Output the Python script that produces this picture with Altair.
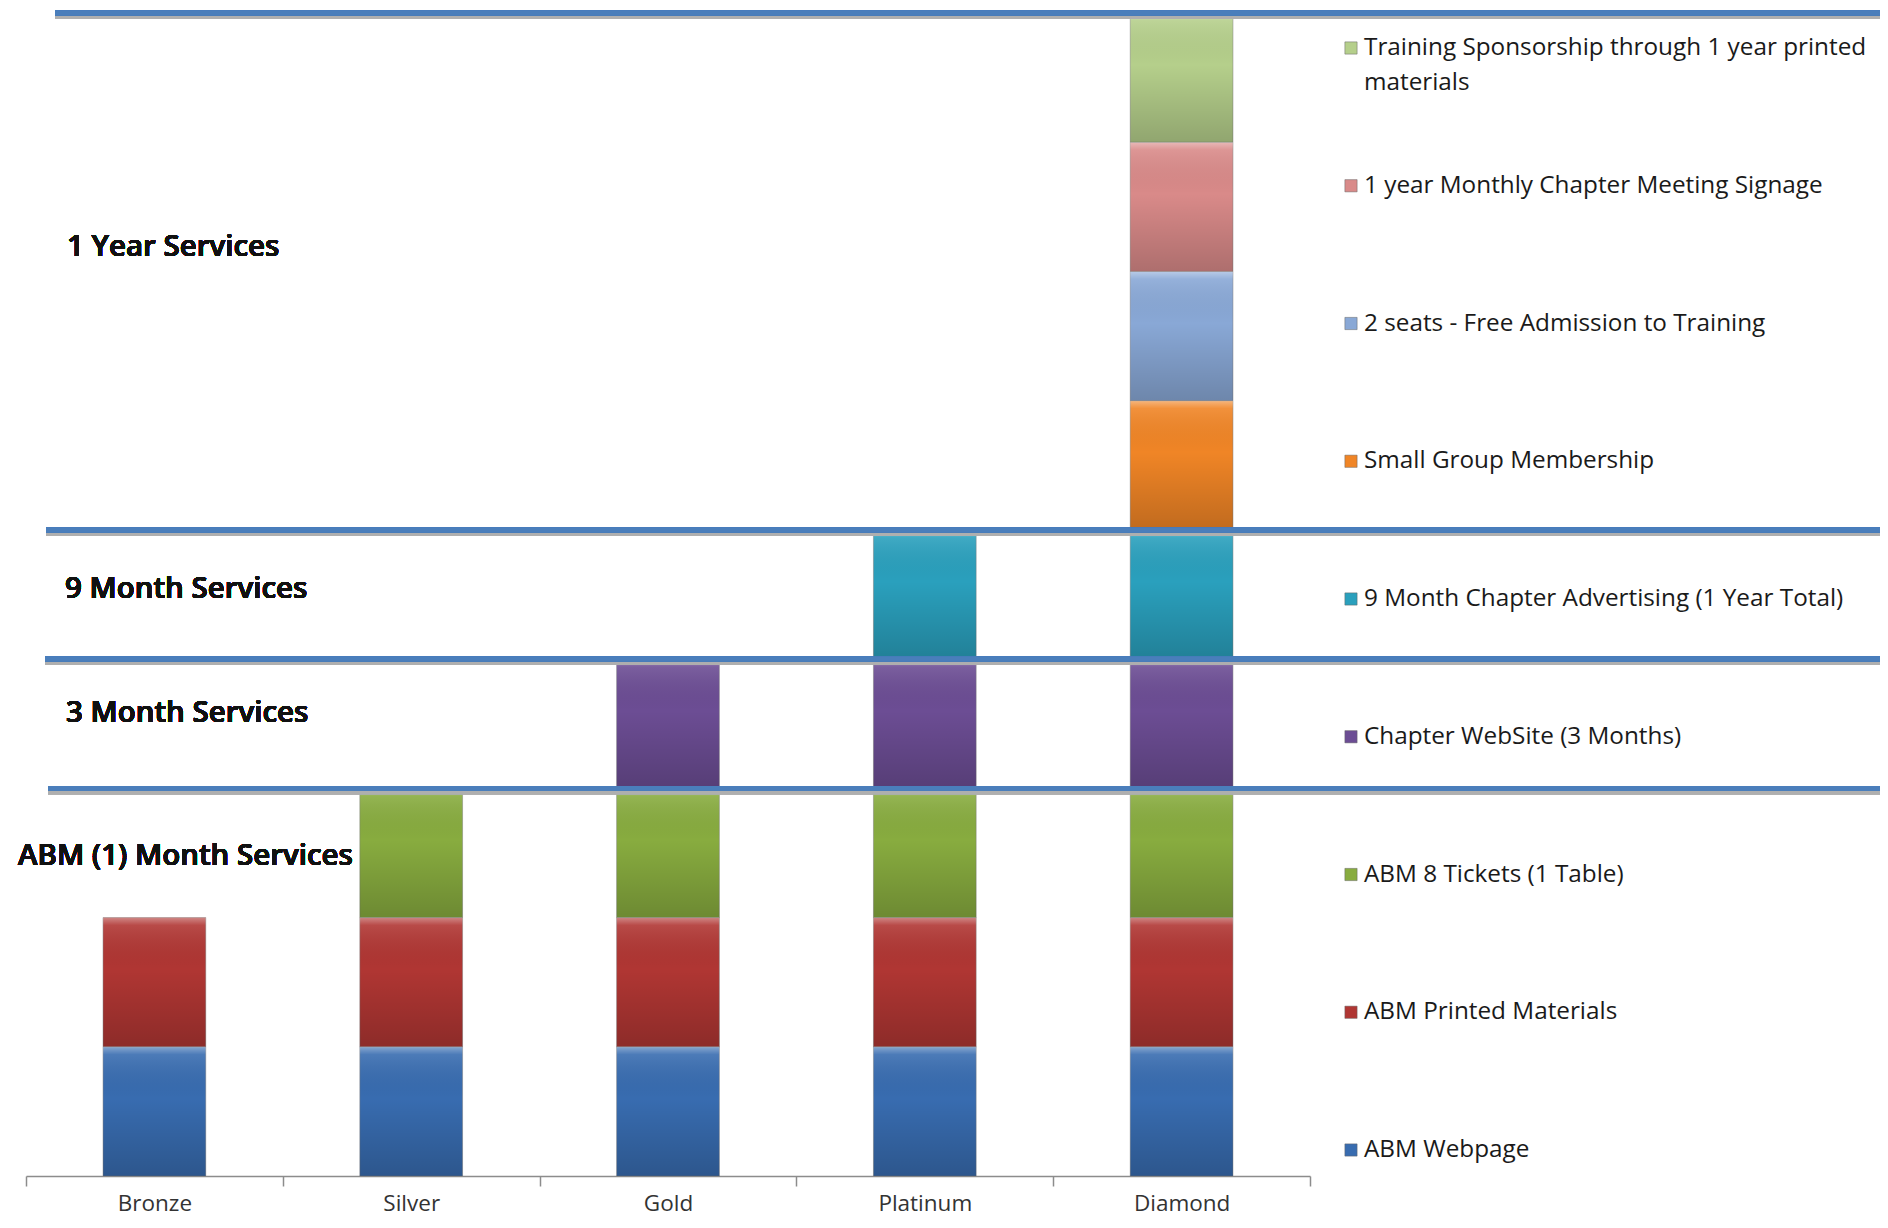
import altair as alt
import pandas as pd

# ---------------- data ----------------
tiers = ["Bronze", "Silver", "Gold", "Platinum", "Diamond"]

series = [
    "ABM Webpage",
    "ABM Printed Materials",
    "ABM 8 Tickets (1 Table)",
    "Chapter WebSite (3 Months)",
    "9 Month Chapter Advertising (1 Year Total)",
    "Small Group Membership",
    "2 seats - Free Admission to Training",
    "1 year Monthly Chapter Meeting Signage",
    "Training Sponsorship through 1 year printed materials",
]

abm_webpage = [1, 1, 1, 1, 1]
abm_printed = [1, 1, 1, 1, 1]
abm_tickets = [0, 1, 1, 1, 1]
chapter_website = [0, 0, 1, 1, 1]
chapter_advertising = [0, 0, 0, 1, 1]
small_group = [0, 0, 0, 0, 1]
free_seats = [0, 0, 0, 0, 1]
meeting_signage = [0, 0, 0, 0, 1]
training_sponsorship = [0, 0, 0, 0, 1]

values = [abm_webpage, abm_printed, abm_tickets, chapter_website,
          chapter_advertising, small_group, free_seats, meeting_signage,
          training_sponsorship]

colors = ["#386CB0", "#B03633", "#88AC3F", "#6C4D94", "#2AA0BD",
          "#F08526", "#89A8D6", "#D98A89", "#B5CF8B"]

section_labels = ["1 Year Services", "9 Month Services", "3 Month Services",
                  "ABM (1) Month Services"]
section_y = [7.19, 4.54, 3.58, 2.48]
divider_y = [9, 5, 4, 3]

# ---------------- tables ----------------
rows = []
for k, (name, vals) in enumerate(zip(series, values)):
    for t, v in zip(tiers, vals):
        if v:
            rows.append({"tier": t, "series": name, "value": v, "order": k})
bars_df = pd.DataFrame(rows)

legend_order = list(reversed(series))
legend_df = pd.DataFrame({
    "series": legend_order,
    "label": [s.replace("through 1 year printed materials",
                        "through 1 year printed\nmaterials") for s in legend_order],
})

# ---------------- layout constants ----------------
W, H = 1854, 1163
FONT = "Open Sans"

yscale = alt.Scale(domain=[0, 9], nice=False, zero=True)
xscale = alt.Scale(domain=tiers, range=[0, 1284], paddingInner=0, paddingOuter=0)
cscale = alt.Scale(domain=series, range=colors)

base = alt.Chart(bars_df)

bars = base.mark_bar(width=alt.RelativeBandSize(0.4), stroke="#7a7a7a",
                     strokeWidth=0.8, strokeOpacity=0.6).encode(
    x=alt.X("tier:N", sort=tiers, scale=xscale,
            axis=alt.Axis(title=None, tickBand="extent", domainColor="#8c8c8c",
                          tickColor="#8c8c8c", tickSize=10, domainWidth=1.5,
                          tickWidth=1.5, labelFontSize=22.5, labelColor="#333333",
                          labelFont=FONT, labelPadding=6, labelAngle=0,
                          grid=False)),
    y=alt.Y("value:Q", stack="zero", scale=yscale, axis=None),
    color=alt.Color("series:N", scale=cscale, legend=None),
    order=alt.Order("order:Q", sort="ascending"),
)

shade = alt.Gradient(
    gradient="linear",
    stops=[
        alt.GradientStop(color="rgba(255,255,255,0.40)", offset=0),
        alt.GradientStop(color="rgba(255,255,255,0.10)", offset=0.06),
        alt.GradientStop(color="rgba(0,0,0,0.0)", offset=0.4),
        alt.GradientStop(color="rgba(0,0,0,0.20)", offset=1),
    ],
    x1=0, x2=0, y1=0, y2=1,
)
overlay = base.mark_bar(width=alt.RelativeBandSize(0.4), fill=shade).encode(
    x=alt.X("tier:N", sort=tiers, scale=xscale),
    y=alt.Y("value:Q", stack="zero", scale=yscale, axis=None),
    detail="series:N",
    order=alt.Order("order:Q", sort="ascending"),
)

line_starts = [29, 20, 19, 22]
rule_layers = []
for yv, xs in zip(divider_y, line_starts):
    rule_layers.append(
        alt.Chart(bars_df).mark_rule(color="#b0b0b0", strokeWidth=4, opacity=0.45, yOffset=4)
        .encode(y=alt.datum(yv, scale=yscale), x=alt.value(xs), x2=alt.value(W))
    )
    rule_layers.append(
        alt.Chart(bars_df).mark_rule(color="#4A7EBB", strokeWidth=4.5)
        .encode(y=alt.datum(yv, scale=yscale), x=alt.value(xs), x2=alt.value(W))
    )

section_x = [41, 39, 40, -8]
text_layers = []
for lab, yv, xs in zip(section_labels, section_y, section_x):
    text_layers.append(
        alt.Chart(bars_df).mark_text(align="left", baseline="middle", font=FONT,
                                     fontSize=29.5, fontWeight=600, color="#111111")
        .encode(x=alt.value(xs), y=alt.datum(yv, scale=yscale), text=alt.value(lab))
    )

main = alt.layer(bars, overlay, *rule_layers, *text_layers)

lscale = alt.Scale(type="point", domain=legend_order, range=[35, 1137], padding=0)
leg_sq = alt.Chart(legend_df).mark_square(size=150, opacity=1, stroke="#666666",
                                          strokeWidth=0.5).encode(
    x=alt.value(1325),
    y=alt.Y("series:N", scale=lscale, axis=None),
    color=alt.Color("series:N", scale=cscale, legend=None),
)
leg_tx = alt.Chart(legend_df).mark_text(align="left", baseline="middle", font=FONT,
                                        fontSize=24.3, lineBreak="\n", lineHeight=35,
                                        color="#1a1a1a").encode(
    x=alt.value(1338),
    y=alt.Y("series:N", scale=lscale, axis=None),
    text="label:N",
)
legend = alt.layer(leg_sq, leg_tx)

chart = alt.layer(main, legend).resolve_scale(y="independent").properties(
    width=W, height=H,
    autosize=alt.AutoSizeParams(type="none"),
    padding={"left": 18, "top": 5, "right": 0, "bottom": 43},
).configure_view(stroke=None)

chart.save("out.html", embed_options={"renderer": "svg", "actions": False})
